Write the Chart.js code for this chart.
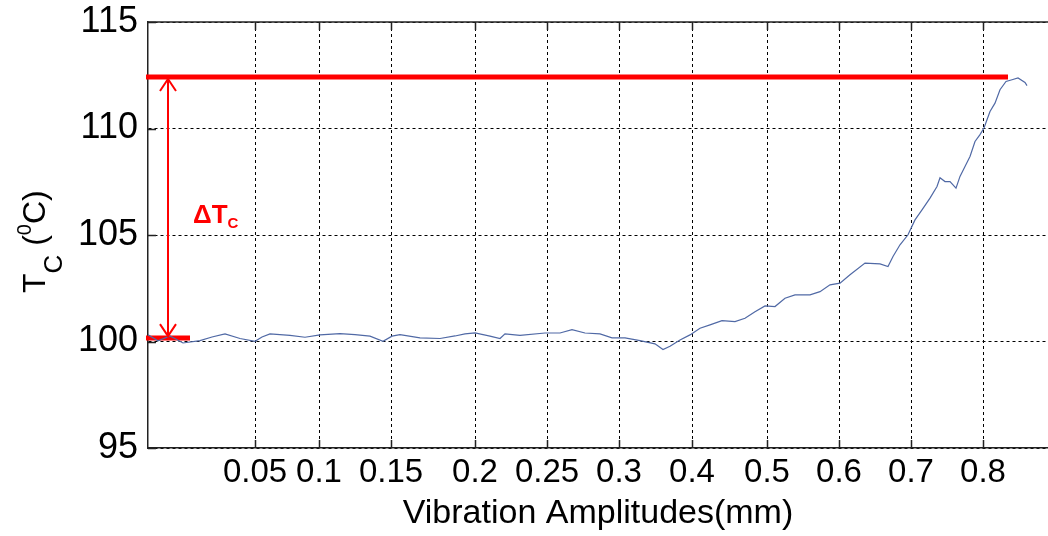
<!DOCTYPE html>
<html>
<head>
<meta charset="utf-8">
<script src="https://cdn.jsdelivr.net/npm/chart.js@4.4.1/dist/chart.umd.min.js"></script>
<style>
  html, body { margin: 0; padding: 0; background: #fff; }
  #box { width: 1048px; height: 536px; }
</style>
</head>
<body>
<div id="box"><canvas id="grafico" width="1048" height="536"></canvas></div>
<script>
// posizione lungo la prova (unita' dell'asse x) e temperatura Tc
var posizioni = [0, 10, 22, 35, 52, 64, 77, 92, 107, 114, 122, 142, 157, 172, 192, 207, 222, 235, 244, 252,
    272, 292, 307, 317, 327, 342, 352, 357, 372, 397, 412, 424, 437, 452, 464, 477, 492, 507, 515, 522,
    532, 542, 552, 562, 574, 587, 597, 607, 617, 627, 637, 647, 662, 672, 682, 692, 702, 717, 732, 740,
    745, 752, 760, 767, 774, 782, 789, 792, 797, 802, 808, 812, 817, 822, 827, 832, 836, 842, 847, 852,
    858, 864, 870, 877, 879];
var temperature = [100.32, 100.03, 100.26, 99.93, 100.04, 100.21, 100.36, 100.14, 100.01, 100.21, 100.36, 100.29, 100.20, 100.31, 100.37, 100.32, 100.25, 100.01, 100.25, 100.32,
    100.17, 100.14, 100.26, 100.36, 100.40, 100.25, 100.14, 100.36, 100.29, 100.40, 100.40, 100.56, 100.40, 100.36, 100.17, 100.17, 100.04, 99.89, 99.62, 99.78,
    100.07, 100.31, 100.62, 100.78, 100.98, 100.93, 101.09, 101.40, 101.67, 101.64, 102.03, 102.19, 102.19, 102.34, 102.66, 102.74, 103.13, 103.68, 103.64, 103.52,
    103.99, 104.54, 105.01, 105.71, 106.18, 106.73, 107.28, 107.69, 107.51, 107.51, 107.20, 107.75, 108.22, 108.69, 109.39, 109.71, 110.02, 110.80, 111.19, 111.82,
    112.21, 112.29, 112.37, 112.16, 112.01];

// tacche dell'asse x (posizione sull'asse e ampiezza in mm)
var tickPos = [107, 171, 243, 327, 399, 471, 544, 619, 691, 763, 835];
var tickLabels = ['0.05', '0.1', '0.15', '0.2', '0.25', '0.3', '0.4', '0.5', '0.6', '0.7', '0.8'];

// linee rosse del Delta Tc
var lineaMaxX = [-2, 860];
var lineaMaxY = [112.42, 112.42];
var lineaBaseX = [-2, 42];
var lineaBaseY = [100.16, 100.16];
var frecciaX = 20;
var testoDelta = { x: 45, y: 106.0 };

function punti(xs, ys) {
    var out = [];
    for (var i = 0; i < xs.length; i++) {
        out.push({ x: xs[i], y: ys[i] });
    }
    return out;
}

var FONT = '"Liberation Sans", Arial, sans-serif';

// cornice, tacche interne, freccia, testo Delta Tc e titolo asse y
var decorazioni = {
    id: 'decorazioni',
    afterDatasetsDraw: function(chart) {
        var ctx = chart.ctx;
        var area = chart.chartArea;
        var sx = chart.scales.x;
        var sy = chart.scales.y;
        ctx.save();

        // bordo superiore
        ctx.strokeStyle = '#222';
        ctx.lineWidth = 1.5;
        ctx.beginPath();
        ctx.moveTo(area.left, area.top);
        ctx.lineTo(area.right, area.top);
        ctx.stroke();

        // tacche verso l'interno
        ctx.beginPath();
        for (var i = 0; i < tickPos.length; i++) {
            var px = Math.round(sx.getPixelForValue(tickPos[i])) + 0.5;
            ctx.moveTo(px, area.bottom);
            ctx.lineTo(px, area.bottom - 8);
            ctx.moveTo(px, area.top);
            ctx.lineTo(px, area.top + 8);
        }
        sy.ticks.forEach(function(t) {
            var py = Math.round(sy.getPixelForValue(t.value)) + 0.5;
            ctx.moveTo(area.left, py);
            ctx.lineTo(area.left + 8, py);
        });
        ctx.stroke();

        // freccia doppia
        var fx = sx.getPixelForValue(frecciaX);
        var yTop = sy.getPixelForValue(lineaMaxY[0]) + 2;
        var yBot = sy.getPixelForValue(lineaBaseY[0]) - 2;
        ctx.strokeStyle = '#ff0000';
        ctx.lineWidth = 2;
        ctx.beginPath();
        ctx.moveTo(fx, yTop);
        ctx.lineTo(fx, yBot);
        ctx.moveTo(fx - 8, yTop + 12);
        ctx.lineTo(fx, yTop);
        ctx.lineTo(fx + 8, yTop + 12);
        ctx.moveTo(fx - 8, yBot - 12);
        ctx.lineTo(fx, yBot);
        ctx.lineTo(fx + 8, yBot - 12);
        ctx.stroke();

        // testo Delta Tc
        var tx = sx.getPixelForValue(testoDelta.x);
        var ty = sy.getPixelForValue(testoDelta.y) + 9;
        ctx.fillStyle = '#ff0000';
        ctx.textBaseline = 'alphabetic';
        ctx.textAlign = 'left';
        ctx.font = 'bold 26px ' + FONT;
        ctx.fillText('\u0394T', tx, ty);
        var w = ctx.measureText('\u0394T').width;
        ctx.font = 'bold 15px ' + FONT;
        ctx.fillText('C', tx + w, ty + 5);

        // titolo asse y: T_C (^0C)
        ctx.fillStyle = '#000';
        ctx.translate(45, 293);
        ctx.rotate(-Math.PI / 2);
        var cx = 0;
        ctx.font = '32px ' + FONT;
        ctx.fillText('T', cx, 0);
        cx += ctx.measureText('T').width;
        ctx.font = '26px ' + FONT;
        ctx.fillText('C', cx, 17);
        cx += ctx.measureText('C').width;
        ctx.font = '32px ' + FONT;
        ctx.fillText(' (', cx, 0);
        cx += ctx.measureText(' (').width;
        ctx.font = '20px ' + FONT;
        ctx.fillText('0', cx, -14);
        cx += ctx.measureText('0').width;
        ctx.font = '32px ' + FONT;
        ctx.fillText('C)', cx, 0);
        ctx.restore();
    }
};

var ctx = document.getElementById('grafico').getContext('2d');
var grafico = new Chart(ctx, {
    type: 'line',
    data: {
        datasets: [
            {
                data: punti(posizioni, temperature),
                borderColor: '#5069a5',
                borderWidth: 1.2,
                pointRadius: 0,
                tension: 0
            },
            {
                data: punti(lineaMaxX, lineaMaxY),
                borderColor: '#ff0000',
                borderWidth: 5,
                pointRadius: 0,
                clip: false
            },
            {
                data: punti(lineaBaseX, lineaBaseY),
                borderColor: '#ff0000',
                borderWidth: 5,
                pointRadius: 0,
                clip: false
            }
        ]
    },
    options: {
        responsive: false,
        animation: false,
        devicePixelRatio: 1,
        layout: { padding: { top: 22, left: 0, right: 0, bottom: 0 } },
        plugins: {
            legend: { display: false },
            tooltip: { enabled: false }
        },
        scales: {
            x: {
                type: 'linear',
                min: 0,
                max: 900,
                afterBuildTicks: function(scale) {
                    scale.ticks = tickPos.map(function(v) { return { value: v }; });
                },
                afterFit: function(scale) {
                    scale.height = 88;
                    scale.paddingLeft = 0;
                    scale.paddingRight = 0;
                },
                ticks: {
                    autoSkip: false,
                    maxRotation: 0,
                    padding: 5,
                    color: '#000',
                    font: { family: FONT, size: 33 },
                    callback: function(value, index) { return tickLabels[index]; }
                },
                grid: {
                    color: '#000',
                    lineWidth: 1,
                    drawTicks: false,
                    tickLength: 0
                },
                border: { display: true, color: '#222', width: 1.5, dash: [3, 3] },
                title: {
                    display: true,
                    text: 'Vibration Amplitudes(mm)',
                    color: '#000',
                    font: { family: FONT, size: 34 },
                    padding: { top: 0, bottom: 2 }
                }
            },
            y: {
                min: 95,
                max: 115,
                afterFit: function(scale) {
                    scale.width = 148;
                    scale.paddingTop = 0;
                    scale.paddingBottom = 0;
                },
                ticks: {
                    stepSize: 5,
                    padding: 10,
                    color: '#000',
                    font: { family: FONT, size: 36 }
                },
                grid: {
                    color: '#000',
                    lineWidth: 1,
                    drawTicks: false,
                    tickLength: 0
                },
                border: { display: true, color: '#222', width: 1.5, dash: [3, 3] }
            }
        }
    },
    plugins: [decorazioni]
});
</script>
</body>
</html>
